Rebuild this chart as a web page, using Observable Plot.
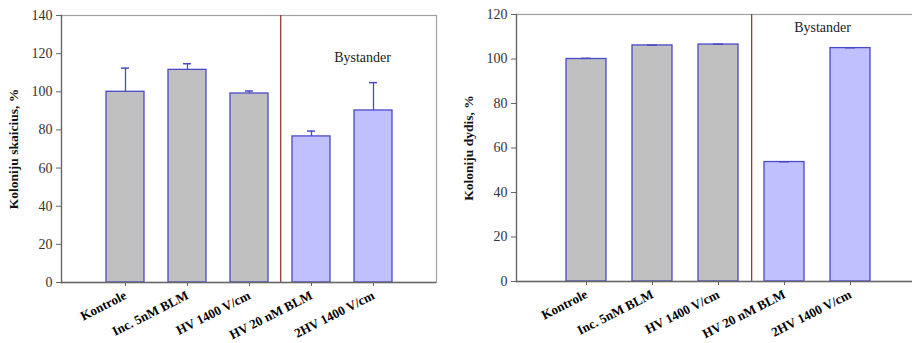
<!DOCTYPE html>
<html>
<head>
<meta charset="utf-8">
<script src="https://cdn.jsdelivr.net/npm/d3@7"></script>
<script src="https://cdn.jsdelivr.net/npm/@observablehq/plot@0.6"></script>
<style>
  html, body { margin: 0; padding: 0; background: #fff; overflow: hidden; }
  #wrap { position: relative; width: 912px; height: 343px; overflow: hidden; }
  #wrap > svg { position: absolute; top: 0; overflow: visible; }
  #wrap svg, #wrap svg text { font-family: "Liberation Serif", "Times New Roman", serif !important; }
</style>
</head>
<body>
<div id="wrap"></div>
<script>
const categories = ["Kontrole", "Inc. 5nM BLM", "HV 1400 V/cm", "HV 20 nM BLM", "2HV 1400 V/cm"];
const groups = ["control", "control", "control", "bystander", "bystander"];

const countValues = [100, 111.5, 99.1, 76.6, 90.2];
const countErrors = [12.4, 3.2, 1.3, 2.8, 14.6];

const sizeValues = [100, 106.1, 106.5, 53.7, 104.9];
const sizeErrors = [0.3, 0.15, 0.15, 0.1, 0.15];

const leftYTicks = [0, 20, 40, 60, 80, 100, 120, 140];
const rightYTicks = [0, 20, 40, 60, 80, 100, 120];

const leftLabel = "Koloniju skaicius, %";
const rightLabel = "Koloniju dydis, %";
const annotationText = "Bystander";
const dividerAfter = "HV 1400 V/cm";

const fillColors = { domain: ["control", "bystander"], range: ["#c0c0c0", "#c0c0ff"] };
const barStroke = "#4a4ac8";
const font = "Liberation Serif";

function makeChart(opts) {
  const data = categories.map((c, i) => ({
    cat: c, group: groups[i], v: opts.values[i], e: opts.errors[i], top: opts.values[i] + opts.errors[i]
  }));
  const plotW = opts.width - opts.marginLeft - opts.marginRight;
  const step = plotW / (categories.length - opts.padIn + 2 * opts.padOut);
  return Plot.plot({
    width: opts.width,
    height: 343,
    marginLeft: opts.marginLeft,
    marginRight: opts.marginRight,
    marginTop: opts.marginTop,
    marginBottom: 343 - opts.bottom,
    style: { fontFamily: font, background: "transparent", overflow: "visible" },
    x: { domain: categories, paddingInner: opts.padIn, paddingOuter: opts.padOut, label: null },
    y: { domain: [0, opts.yMax], label: null },
    color: fillColors,
    marks: [
      Plot.frame({ stroke: "#a0a0a0", strokeWidth: 1.2 }),
      Plot.barY(data, { x: "cat", y: "v", fill: "group", stroke: barStroke, strokeWidth: 1.3 }),
      Plot.ruleX(data, { x: "cat", y1: "v", y2: "top", stroke: barStroke, strokeWidth: 1.3 }),
      Plot.tickY(data, { x: "cat", y: "top", stroke: barStroke, strokeWidth: 1.5, insetLeft: opts.capInset, insetRight: opts.capInset }),
      Plot.ruleX([dividerAfter], { x: d => d, dx: step / 2, stroke: "#9a3a3a", strokeWidth: 1.3 }),
      Plot.text([annotationText], { x: () => categories[categories.length - 1], y: () => opts.annotY, dx: opts.annotDx, fontSize: 14, fill: "#222", fontFamily: font }),
      Plot.ruleY([0], { stroke: "#666", strokeWidth: 1.3 }),
      Plot.frame({ anchor: "left", stroke: "#666", strokeWidth: 1.3 }),
      Plot.axisY({ ticks: opts.yTicks, tickSize: 5, tickPadding: 4, fontSize: 14, label: null, fill: "#333", stroke: "#666", fontFamily: font }),
      Plot.axisX({ tickSize: 4, tickPadding: 8, tickRotate: -27, fontSize: 13, fontWeight: "bold", label: null, fill: "#000", stroke: "#666", fontFamily: font }),
      Plot.text([opts.label], { frameAnchor: "left", textAnchor: "middle", dx: -opts.labelOffset, rotate: -90, fontSize: 13.5, fontWeight: "bold", fill: "#111", fontFamily: font })
    ]
  });
}

const left = makeChart({
  width: 456, marginLeft: 61, marginRight: 20, marginTop: 15, bottom: 282,
  padIn: 0.39, padOut: 0.7, yMax: 140, yTicks: leftYTicks,
  values: countValues, errors: countErrors, capInset: 15,
  annotY: 118, annotDx: -11, label: leftLabel, labelOffset: 48
});
const right = makeChart({
  width: 480, marginLeft: 60, marginRight: 17, marginTop: 14, bottom: 281,
  padIn: 0.4, padOut: 0.74, yMax: 120, yTicks: rightYTicks,
  values: sizeValues, errors: sizeErrors, capInset: 15,
  annotY: 114.3, annotDx: -28, label: rightLabel, labelOffset: 48
});
left.style.left = "0px";
right.style.left = "456px";
document.getElementById("wrap").append(left, right);
</script>
</body>
</html>
